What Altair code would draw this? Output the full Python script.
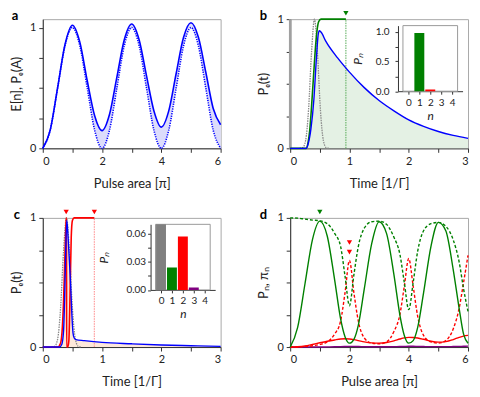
import altair as alt
import pandas as pd

# ---------------- data ----------------
# panel a : pulse area (units of pi)
a_x = [0, 0.25, 0.5, 0.75, 1, 1.25, 1.5, 1.75, 2, 2.25, 2.5, 2.75, 3,
       3.25, 3.5, 3.75, 4, 4.25, 4.5, 4.75, 5, 5.25, 5.5, 5.75, 6]
a_expect_n = [0, 0.15, 0.5, 0.86, 1.02, 0.88, 0.56, 0.27, 0.147, 0.28, 0.59, 0.9, 1.03,
              0.9, 0.6, 0.31, 0.176, 0.31, 0.62, 0.92, 1.04, 0.92, 0.63, 0.33, 0.195]
a_pe = [0, 0.15, 0.5, 0.85, 1, 0.85, 0.5, 0.15, 0, 0.15, 0.5, 0.85, 1,
        0.85, 0.5, 0.15, 0, 0.15, 0.5, 0.85, 1, 0.85, 0.5, 0.15, 0]

# panel b : time (1/Gamma)
b_pulse_t = [0.16, 0.21, 0.26, 0.31, 0.36, 0.41, 0.46, 0.51, 0.56, 0.61, 0.66]
b_pulse_v = [0, 0.005, 0.06, 0.3, 0.74, 1.0, 0.74, 0.3, 0.06, 0.005, 0]
b_green_t = [0, 0.27, 0.3, 0.33, 0.36, 0.39, 0.42, 0.45, 0.48, 0.52, 0.94]
b_green_v = [0, 0, 0.04, 0.14, 0.32, 0.53, 0.74, 0.9, 0.98, 1.0, 1.0]
b_blue_t = [0, 0.27, 0.3, 0.35, 0.4, 0.44, 0.47, 0.49, 0.52, 0.6, 0.8, 1.0, 1.25,
            1.5, 1.75, 2.0, 2.25, 2.5, 2.75, 3.0]
b_blue_v = [0, 0, 0.03, 0.15, 0.38, 0.68, 0.87, 0.91, 0.9, 0.83, 0.7, 0.59, 0.47,
            0.37, 0.29, 0.22, 0.17, 0.13, 0.1, 0.077]
b_marker_t = [0.94]
b_marker_v = [1.046]
b_n = [0, 1, 2, 3, 4]
b_pn = [0, 0.975, 0.03, 0, 0]

# panel c
c_pulse_t = [0.15, 0.2, 0.25, 0.3, 0.35, 0.4, 0.45, 0.5, 0.55, 0.6, 0.65]
c_pulse_v = [0, 0.005, 0.06, 0.3, 0.74, 1.0, 0.74, 0.3, 0.06, 0.005, 0]
c_red_t = [0, 0.25, 0.3, 0.33, 0.35, 0.37, 0.385, 0.395, 0.4, 0.402, 0.42, 0.44,
           0.46, 0.48, 0.5, 0.53, 0.87]
c_red_v = [0, 0, 0.03, 0.15, 0.35, 0.65, 0.88, 0.98, 1.0, 0, 0, 0.05,
           0.4, 0.85, 0.98, 1.0, 1.0]
c_blue_t = [0, 0.28, 0.32, 0.35, 0.37, 0.39, 0.405, 0.42, 0.445, 0.47, 0.49, 0.51,
            0.53, 0.56, 0.7, 1.0, 1.5, 2.0, 2.5, 3.0]
c_blue_v = [0, 0, 0.02, 0.12, 0.4, 0.8, 0.98, 0.9, 0.7, 0.48, 0.26, 0.11,
            0.07, 0.058, 0.05, 0.036, 0.025, 0.016, 0.01, 0.005]
c_marker_t = [0.395, 0.87]
c_marker_v = [1.046, 1.046]
c_n = [0, 1, 2, 3, 4]
c_pn = [0.07, 0.024, 0.057, 0.0025, 0]

# panel d : pulse area (units of pi)
d_x = [0, 0.25, 0.5, 0.75, 1, 1.25, 1.5, 1.7, 1.85, 2, 2.15, 2.3, 2.5, 2.75, 3,
       3.25, 3.5, 3.7, 3.85, 4, 4.15, 4.3, 4.5, 4.75, 5, 5.25, 5.5, 5.7, 5.85, 6]
d_p1 = [0, 0.15, 0.49, 0.83, 0.975, 0.86, 0.52, 0.22, 0.08, 0.03, 0.06, 0.17, 0.45, 0.8, 0.97,
        0.88, 0.56, 0.25, 0.09, 0.03, 0.05, 0.15, 0.42, 0.78, 0.965, 0.9, 0.6, 0.3, 0.1, 0.03]
d_pi1 = [1.0, 0.998, 0.99, 0.983, 0.977, 0.955, 0.88, 0.78, 0.55, 0.32, 0.56, 0.78, 0.92, 0.97, 0.975,
         0.95, 0.85, 0.72, 0.5, 0.29, 0.5, 0.74, 0.9, 0.955, 0.965, 0.935, 0.83, 0.66, 0.45, 0.275]
d_p2 = [0, 0.002, 0.008, 0.02, 0.033, 0.045, 0.055, 0.062, 0.064, 0.062, 0.057, 0.05, 0.04, 0.032, 0.03,
        0.035, 0.048, 0.062, 0.071, 0.075, 0.074, 0.07, 0.06, 0.045, 0.038, 0.042, 0.058, 0.075, 0.085, 0.09]
d_pi2 = [0, 0, 0.005, 0.01, 0.02, 0.04, 0.1, 0.2, 0.42, 0.67, 0.42, 0.2, 0.07, 0.03, 0.025,
         0.04, 0.12, 0.25, 0.47, 0.685, 0.47, 0.24, 0.09, 0.04, 0.03, 0.05, 0.14, 0.3, 0.5, 0.71]
d_p3 = [0, 0, 0, 0, 0, 0.001, 0.002, 0.003, 0.004, 0.005, 0.005, 0.004, 0.003, 0.002, 0.002,
        0.002, 0.003, 0.004, 0.005, 0.006, 0.006, 0.005, 0.004, 0.003, 0.003, 0.003, 0.004, 0.005, 0.006, 0.007]
d_marker_t = [1, 2, 2]
d_marker_v = [1.046, 0.81, 0.735]

# ---------------- style ----------------
FONT = "Lato"
W, H = 179, 130
BLUE = "#0000ff"
GREEN = "#008000"
RED = "#ff0000"
PURPLE = "#800080"
GREY = "#8a8a8a"
INSET_X = [108.5, 173.5]
INSET_Y = [72.5, 6.5]
BAR_COLORS = ["#808080", GREEN, RED, PURPLE, "#4040ff"]


def df(**kw):
    return pd.DataFrame(kw)


def main_axes(xdom, xvals, xlab, xtitle, ydom, ytitle):
    xa = alt.Axis(values=xvals, labelExpr=xlab, title=xtitle, tickSize=4,
                  labelPadding=3, titlePadding=11, labelFontSize=11, titleFontSize=13)
    ya = alt.Axis(values=[0, 0.25, 0.5, 0.75, 1],
                  labelExpr="datum.value == 0 || datum.value == 1 ? format(datum.value, 'd') : ''",
                  title=ytitle, tickSize=4, labelPadding=3, titlePadding=6,
                  labelFontSize=11, titleFontSize=13)
    xs = alt.Scale(domain=xdom, nice=False, zero=False)
    ys = alt.Scale(domain=ydom, nice=False, zero=False)
    X = lambda f: alt.X(f"{f}:Q", scale=xs, axis=xa)
    Y = lambda f: alt.Y(f"{f}:Q", scale=ys, axis=ya)
    return X, Y


def letter(s, dx, dy):
    return alt.Chart(df(s=[s])).mark_text(
        font=FONT, fontSize=13, fontWeight="bold", align="center", baseline="top",
        color="#000").encode(text="s:N", x=alt.value(dx), y=alt.value(dy))


def line(data, X, Y, color, width=1.5, dash=None, xf="t", yf="v"):
    kw = dict(color=color, strokeWidth=width, interpolate="monotone")
    if dash:
        kw["strokeDash"] = dash
    return alt.Chart(data).mark_line(**kw).encode(x=X(xf), y=Y(yf))


def inset(n, p, ydom, yvals, ylab, lpad, tpad):
    xs = alt.Scale(domain=[-0.5, 4.5], range=INSET_X, nice=False, zero=False)
    ys = alt.Scale(domain=ydom, range=INSET_Y, nice=False, zero=False)
    xa = alt.Axis(values=[0, 1, 2, 3, 4], format="d", orient="bottom", offset=INSET_Y[0] - H,
                  title="n", titleFontStyle="italic", titleFontSize=12, labelFontSize=10,
                  tickSize=3, labelPadding=3, titlePadding=3)
    ya = alt.Axis(values=yvals, labelExpr=ylab, orient="left", offset=-INSET_X[0],
                  title="Pₙ", titleFontStyle="italic", titleFontSize=12, labelFontSize=10,
                  tickSize=3, labelPadding=lpad, titlePadding=tpad)
    frame = alt.Chart(df(x0=[-0.5], x1=[4.5], y0=[ydom[0]], y1=[ydom[1]])).mark_rect(
        fill="white", stroke="#999", strokeWidth=1).encode(
        x=alt.X("x0:Q", scale=xs, axis=xa), x2="x1:Q",
        y=alt.Y("y0:Q", scale=ys, axis=ya), y2="y1:Q")
    bars = alt.Chart(df(n=n, p=p)).mark_bar(size=10, clip=True).encode(
        x=alt.X("n:Q", scale=xs, axis=xa),
        y=alt.Y("p:Q", scale=ys, axis=ya),
        color=alt.Color("n:N", scale=alt.Scale(domain=[0, 1, 2, 3, 4], range=BAR_COLORS), legend=None))
    return alt.layer(frame, bars)


def marker(t, v, X, Y, color, xf="t"):
    return alt.Chart(pd.DataFrame({xf: t, "v": v})).mark_point(
        shape="triangle-down", filled=True, size=28, color=color, opacity=1).encode(x=X(xf), y=Y("v"))


every2 = "datum.value % 2 == 0 ? format(datum.value, 'd') : ''"
every1 = "datum.value % 1 == 0 ? format(datum.value, 'd') : ''"

# ---------------- panel a ----------------
Xa, Ya = main_axes([0, 6], [0, 1, 2, 3, 4, 5, 6], every2, "Pulse area [π]", [0, 1.07], "E[n], Pₑ(A)")
a_df = df(x=a_x, en=a_expect_n, pe=a_pe)
pa = alt.layer(
    alt.Chart(a_df).mark_area(color="#dcdcfb", interpolate="monotone").encode(x=Xa("x"), y=Ya("pe"), y2="en:Q"),
    line(a_df, Xa, Ya, BLUE, 1.6, [1.2, 1.2], xf="x", yf="pe"),
    line(a_df, Xa, Ya, BLUE, 1.6, xf="x", yf="en"),
    letter("a", -28, -9),
).properties(width=W, height=H)

# ---------------- panel b ----------------
Xb, Yb = main_axes([0, 3], [0, 0.5, 1, 1.5, 2, 2.5, 3], every1, "Time [1/Γ]", [0, 1], "Pₑ(t)")
b_blue = df(t=b_blue_t, v=b_blue_v)
b_main = alt.layer(
    alt.Chart(b_blue).mark_area(color="#e4f1e4", interpolate="monotone").encode(x=Xb("t"), y=Yb("v")),
    alt.Chart(df(t=[0], v=[0], v2=[1])).mark_rule(color="#a0a0a0", strokeWidth=2.5).encode(x=Xb("t"), y=Yb("v"), y2="v2:Q"),
    line(df(t=b_pulse_t, v=b_pulse_v), Xb, Yb, GREY, 1.3, [1.5, 1]),
    alt.Chart(df(t=b_marker_t, v=[0], v2=[1])).mark_rule(color="#55aa55", strokeWidth=1, strokeDash=[1.5, 1]).encode(x=Xb("t"), y=Yb("v"), y2="v2:Q"),
    line(df(t=b_green_t, v=b_green_v), Xb, Yb, GREEN, 1.6),
    line(b_blue, Xb, Yb, BLUE, 1.4),
    marker(b_marker_t, b_marker_v, Xb, Yb, GREEN),
    letter("b", -27, -9),
)
pb = alt.layer(b_main, inset(b_n, b_pn, [0, 1.1], [0, 0.25, 0.5, 0.75, 1],
                             "datum.value % 0.5 == 0 ? format(datum.value, '.1f') : ''", 6, 11)
               ).resolve_scale(x="independent", y="independent").properties(width=W, height=H)

# ---------------- panel c ----------------
Xc, Yc = main_axes([0, 3], [0, 0.5, 1, 1.5, 2, 2.5, 3], every1, "Time [1/Γ]", [0, 1], "Pₑ(t)")
c_blue = df(t=c_blue_t, v=c_blue_v)
c_main = alt.layer(
    alt.Chart(c_blue).mark_area(color="#fde8da", interpolate="monotone").encode(x=Xc("t"), y=Yc("v")),
    line(df(t=c_pulse_t, v=c_pulse_v), Xc, Yc, GREY, 1.3, [1.5, 1]),
    alt.Chart(df(t=[c_marker_t[1]], v=[0], v2=[1])).mark_rule(color="#ff9c9c", strokeWidth=1.2, strokeDash=[1.5, 1]).encode(x=Xc("t"), y=Yc("v"), y2="v2:Q"),
    line(df(t=c_red_t, v=c_red_v), Xc, Yc, RED, 1.6),
    line(c_blue, Xc, Yc, BLUE, 1.4),
    marker(c_marker_t, c_marker_v, Xc, Yc, RED),
    letter("c", -26, -9),
)
pc = alt.layer(c_main, inset(c_n, c_pn, [0, 0.07], [0, 0.015, 0.03, 0.045, 0.06],
                             "datum.value == 0 || datum.value == 0.03 || datum.value == 0.06 ? format(datum.value, '.2f') : ''", 2, 16)
               ).resolve_scale(x="independent", y="independent").properties(width=W, height=H)

# ---------------- panel d ----------------
Xd, Yd = main_axes([0, 6], [0, 1, 2, 3, 4, 5, 6], every2, "Pulse area [π]", [0, 1], "Pₙ, πₙ")
d_df = df(x=d_x, p1=d_p1, pi1=d_pi1, p2=d_p2, pi2=d_pi2, p3=d_p3)
pd_ = alt.layer(
    line(d_df, Xd, Yd, PURPLE, 1.4, xf="x", yf="p3"),
    line(d_df, Xd, Yd, RED, 1.4, [3, 2], xf="x", yf="pi2"),
    line(d_df, Xd, Yd, RED, 1.4, xf="x", yf="p2"),
    line(d_df, Xd, Yd, GREEN, 1.4, [3, 2], xf="x", yf="pi1"),
    line(d_df, Xd, Yd, GREEN, 1.4, xf="x", yf="p1"),
    marker(d_marker_t[:1], d_marker_v[:1], Xd, Yd, GREEN, xf="x"),
    marker(d_marker_t[1:], d_marker_v[1:], Xd, Yd, RED, xf="x"),
    letter("d", -27, -9),
).properties(width=W, height=H)

chart = alt.concat(pa, pb, pc, pd_, columns=2, bounds="flush",
                   spacing={"row": 70, "column": 70}).properties(
    padding={"left": 2, "top": 0, "right": 0, "bottom": 0}
).configure_axis(
    labelFont=FONT, titleFont=FONT, titleFontWeight="normal", grid=False,
    domainColor="#333", tickColor="#333", labelColor="#222", titleColor="#222"
).configure_view(stroke="#a8a8a8", strokeWidth=1)

chart.save("out.html", embed_options={"renderer": "svg", "actions": False})
